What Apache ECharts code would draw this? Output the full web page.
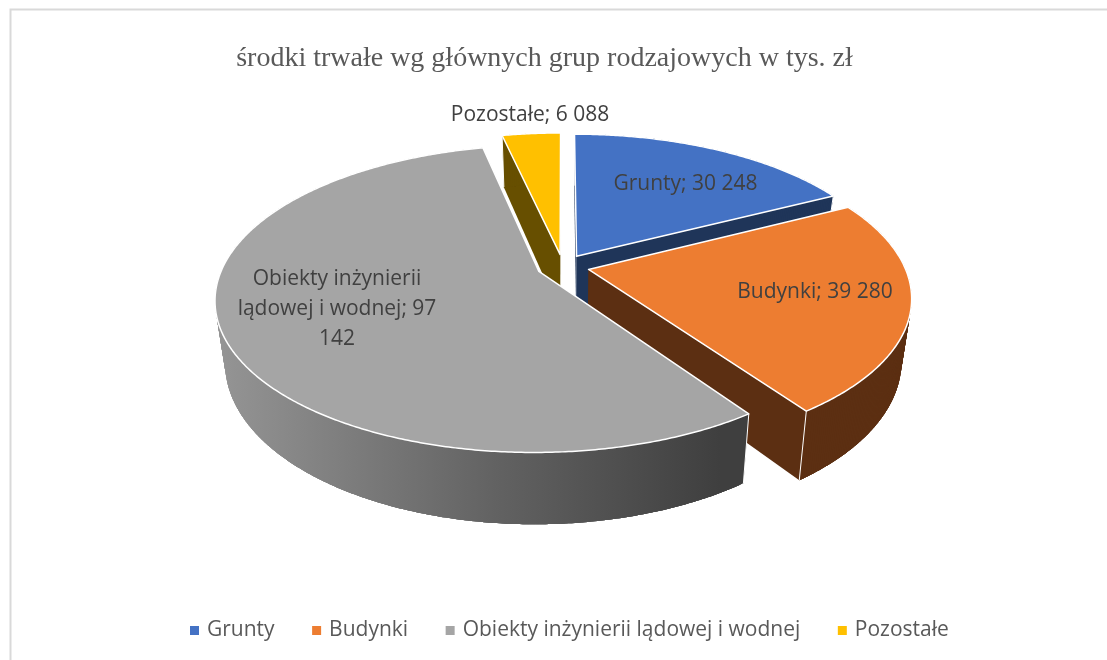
<!DOCTYPE html>
<html><head><meta charset="utf-8">
<style>html,body{margin:0;padding:0;background:#fff}#c{width:1107px;height:660px}</style>
<script src="https://cdn.jsdelivr.net/npm/echarts@6/dist/echarts.min.js"></script>
</head><body><div id="c"></div>
<script>
const categories = ['Grunty', 'Budynki', 'Obiekty inżynierii lądowej i wodnej', 'Pozostałe'];
const values = [30248, 39280, 97142, 6088];
const labels = ['Grunty; 30 248', 'Budynki; 39 280', 'Obiekty inżynierii\nlądowej i wodnej; 97\n142', 'Pozostałe; 6 088'];
const topColors = ['#4472C4', '#ED7D31', '#A5A5A5', '#FFC000'];
const wallColors = ['#1F3559', '#5C2F12', null, '#674F00'];
const titleText = 'środki trwałe wg głównych grup rodzajowych w tys. zł';

// Geometry of the 3D view
const VIEW = {cx: 563, cy: 266.5, a: 316, b: 147, p: 0.177, explode: 0.083,
              sx: 0.971, dy0: 43, dy1: 0.0637};
const labelAt = [[685.5, 184.5], [815, 292], [337, 309], [530, 115.5]];
const drawOrder = [0, 3, 1, 2];

const total = values.reduce((s, v) => s + v, 0);
const starts = []; let acc = 0;
values.forEach(v => { starts.push(acc); acc += v / total * 360; });

function project(X, Y) {
  const w = 1 - VIEW.p * Y;
  return [VIEW.cx + VIEW.a * X / w, VIEW.cy + VIEW.b * Y / w];
}
function lower(pt) {
  return [VIEW.cx + VIEW.sx * (pt[0] - VIEW.cx), pt[1] + VIEW.dy0 + VIEW.dy1 * pt[1]];
}
function sliceGeometry(i) {
  const a0 = starts[i], a1 = a0 + values[i] / total * 360;
  const rad = d => d * Math.PI / 180;
  const m = rad((a0 + a1) / 2);
  const ox = VIEW.explode * Math.sin(m), oy = -VIEW.explode * Math.cos(m);
  const apex = project(ox, oy);
  const rim = [];
  const n = Math.ceil(a1 - a0) * 2;
  for (let k = 0; k <= n; k++) {
    const t = rad(a0 + (a1 - a0) * k / n);
    rim.push(project(ox + Math.sin(t), oy - Math.cos(t)));
  }
  return {apex, rim};
}
function sliceRender(i) {
  return function () {
    const {apex, rim} = sliceGeometry(i);
    const wallFill = wallColors[i] || {
      type: 'linear', x: 222, y: 0, x2: 720, y2: 0, global: true,
      colorStops: [{offset: 0, color: '#949494'}, {offset: 0.55, color: '#626262'}, {offset: 1, color: '#3F3F3F'}]
    };
    const first = rim[0], last = rim[rim.length - 1];
    const sweep = pts => ({
      type: 'polygon', silent: true,
      shape: {points: pts.concat(pts.slice().reverse().map(lower))},
      style: {fill: wallFill}
    });
    // The wall is swept in overlapping strips, so its outline follows the real silhouette without seams.
    const walls = [sweep([apex, first]), sweep([apex, last])];
    for (let k = 0; k < rim.length - 1; k++) walls.push(sweep(rim.slice(k, k + 5)));
    const corners = [first, last].map(p => ({
      type: 'line', silent: true,
      shape: {x1: p[0], y1: p[1], x2: lower(p)[0], y2: lower(p)[1]},
      style: {stroke: '#fff', lineWidth: 1}
    }));
    return {
      type: 'group',
      children: walls.concat(corners, [
        {type: 'polygon', shape: {points: [apex].concat(rim)},
         style: {fill: topColors[i], stroke: '#fff', lineWidth: 1.5, lineJoin: 'round'}},
        {type: 'text', x: labelAt[i][0], y: labelAt[i][1],
         style: {text: labels[i], fill: '#404040', font: '21px "Open Sans"',
                 align: 'center', verticalAlign: 'middle', lineHeight: 30}}
      ])
    };
  };
}
const series = drawOrder.map(i => ({
  type: 'custom', name: categories[i], coordinateSystem: 'none',
  data: [values[i]], itemStyle: {color: topColors[i]},
  animation: false, z: 2, renderItem: sliceRender(i)
}));
const chart = echarts.init(document.getElementById('c'), null, {renderer: 'canvas'});
chart.setOption({
  backgroundColor: '#fff', animation: false,
  title: {text: titleText, left: 539.5, top: 40, textAlign: 'center',
          textStyle: {fontFamily: 'Liberation Serif', fontWeight: 'normal', fontSize: 28, color: '#595959'}},
  legend: {data: categories, left: 185, top: 615, icon: 'rect', itemWidth: 9, itemHeight: 9, itemGap: 37.5,
           textStyle: {fontFamily: 'Open Sans', fontSize: 21, color: '#595959', padding: [0, 0, 0, 3]}},
  graphic: [{type: 'polyline', shape: {points: [[10.5, 660], [10.5, 9.5], [1107, 9.5]]},
             style: {stroke: '#D9D9D9', lineWidth: 2, fill: null}, silent: true}],
  series
});
</script></body></html>
